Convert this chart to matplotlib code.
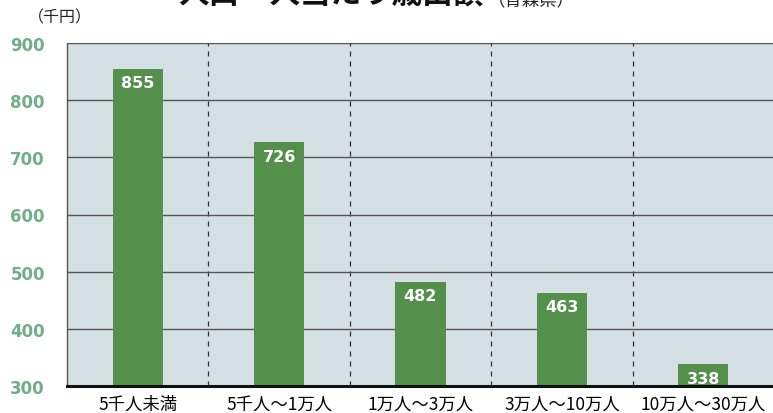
import matplotlib
matplotlib.use("Agg")
import matplotlib.pyplot as plt

plt.rcParams['font.family'] = ['Noto Sans CJK JP', 'DejaVu Sans']

categories = ["5千人未満", "5千人～1万人", "1万人～3万人", "3万人～10万人", "10万人～30万人"]
values = [855, 726, 482, 463, 338]
yticks = [300, 400, 500, 600, 700, 800, 900]

W, H = 773, 414
fig = plt.figure(figsize=(W / 100, H / 100), dpi=100)
fig.patch.set_facecolor("white")

left, right, top, bottom = 67, 774, 44, 387
ax = fig.add_axes([left / W, (H - bottom) / H, (right - left) / W, (bottom - top) / H])
ax.set_facecolor("#d5e0e4")

x = list(range(len(categories)))
ax.bar(x, values, width=0.355, color="#548f4b", zorder=3)
ax.set_xlim(-0.5, len(categories) - 0.5)
ax.set_ylim(300, 900)

for xi, v in zip(x, values):
    ax.annotate(f"{v}", (xi, v), xytext=(0, -10), textcoords="offset points",
                ha="center", va="center", color="white", fontsize=11.5,
                fontweight="bold", family="DejaVu Sans", zorder=4)

ax.set_yticks(yticks)
ax.yaxis.grid(True, color="#555555", linewidth=1.0, zorder=1)
for b in [i + 0.5 for i in range(len(categories) - 1)]:
    ax.axvline(b, color="#333333", linestyle=(0, (4, 4)), linewidth=0.9, zorder=1)

ax.tick_params(axis="y", length=0, pad=16)
for lab in ax.get_yticklabels():
    lab.set_fontweight("bold")
    lab.set_family("DejaVu Sans")
    lab.set_fontsize(12)
    lab.set_color("#72ae88")
ax.set_xticks(x)
ax.set_xticklabels(categories, fontsize=12.5)
ax.tick_params(axis="x", length=0, pad=6)

for s in ["top", "right"]:
    ax.spines[s].set_visible(False)
ax.spines["left"].set_color("#555555")
ax.spines["left"].set_linewidth(1.0)
ax.spines["bottom"].set_color("#111111")
ax.spines["bottom"].set_linewidth(2.2)
ax.spines["bottom"].set_zorder(5)

fig.text(28 / W, 1 - 18 / H, "（千円）", fontsize=11.5, ha="left", va="center", color="#222222")

fig.text(178 / W, 1 - 9 / H, "人口一人当たり歳出額", fontsize=22, fontweight="bold",
         ha="left", va="bottom", color="#111111")
fig.text(488 / W, 1 - 9 / H, "（青森県）", fontsize=12.5, ha="left", va="bottom", color="#222222")

fig.savefig("out.png", dpi=100)
